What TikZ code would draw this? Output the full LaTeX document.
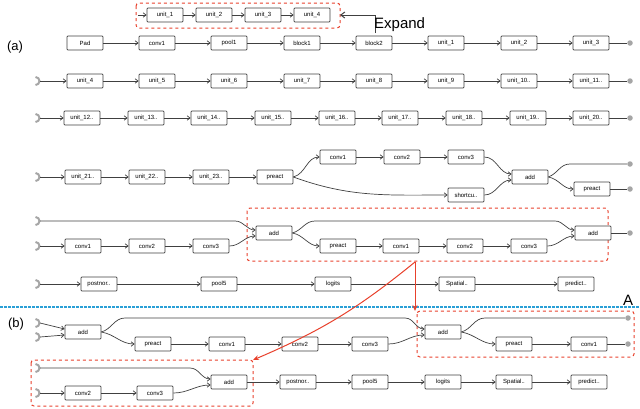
\documentclass[tikz,border=0pt]{standalone}
\usepackage{fontspec}
\setmainfont{Liberation Sans}
\usetikzlibrary{arrows.meta}
\definecolor{redd}{HTML}{E8412C}
\definecolor{bluel}{HTML}{2A9FD6}
\definecolor{ln}{HTML}{404040}
\begin{document}
\begin{tikzpicture}[x=1pt,y=-1pt,
  b/.style={draw=ln,line width=0.7pt,rounded corners=0.8pt,minimum width=36pt,minimum height=14pt,inner sep=0pt,font=\fontsize{6}{7}\selectfont,fill=white},
  c/.style={ln,line width=0.7pt,-{Straight Barb[length=3pt,width=4.5pt]}},
  l/.style={ln,line width=0.7pt},
  src/.pic={\draw[gray!70,line width=2pt] (-4.5pt,4pt) arc[start angle=90,end angle=-90,radius=4pt];},
  dot/.style={circle,fill=gray!70,inner sep=0pt,minimum size=5.5pt},
  rbox/.style={draw=redd,dashed,line width=1pt,rounded corners=3pt},
  lab/.style={font=\fontsize{13}{14}\selectfont,inner sep=0pt}]
\useasboundingbox (0,0) rectangle (640,408);
% expand
\draw[rbox] (136,3) rectangle (340,28);
\coordinate (e0) at (138,15);
\foreach \i/\x in {1/165,2/214,3/263,4/312} \node[b] (e\i) at (\x,15) {unit\_\i};
\draw[c] (e0) -- (e1); \draw[c] (e1) -- (e2); \draw[c] (e2) -- (e3); \draw[c] (e3) -- (e4);
\coordinate (ea) at (375,33); \coordinate (eb) at (375,15); \coordinate (ec) at (340,15);
\draw[ln,line width=1pt,-{Straight Barb[length=4pt,width=6pt]}] (ea) -- (eb) -- (ec);
\node[lab,anchor=west,font=\fontsize{15}{16}\selectfont] (ex) at (374,25) {Expand};
\node[lab] (la) at (15,47) {(a)};
% row1
\foreach \n/\x/\t in {p/85/Pad,a/157/conv1,b/229/pool1,c/302/block1,d/374/block2,e/446/unit\_1,f/519/unit\_2,g/591/unit\_3}
  \node[b] (r1\n) at (\x,43) {\t};
\foreach \a/\b in {p/a,a/b,b/c,c/d,d/e,e/f,f/g} \draw[c] (r1\a) -- (r1\b);
\node[dot] (d1) at (630,43) {}; \draw[l] (r1g) -- (d1);
% row2
\coordinate (s2) at (40,81); \pic at (s2) {src};
\foreach \n/\x/\t in {a/85/unit\_4,b/157/unit\_5,c/229/unit\_6,d/302/unit\_7,e/374/unit\_8,f/446/unit\_9,g/519/unit\_10..,h/591/unit\_11..}
  \node[b] (r2\n) at (\x,81) {\t};
\draw[c] (s2) -- (r2a);
\foreach \a/\b in {a/b,b/c,c/d,d/e,e/f,f/g,g/h} \draw[c] (r2\a) -- (r2\b);
\node[dot] (d2) at (630,81) {}; \draw[l] (r2h) -- (d2);
% row3
\coordinate (s3) at (40,118); \pic at (s3) {src};
\foreach \n/\x/\t in {a/82/unit\_12..,b/146/unit\_13..,c/209/unit\_14..,d/273/unit\_15..,e/337/unit\_16..,f/400/unit\_17..,g/464/unit\_18..,h/528/unit\_19..,i/591/unit\_20..}
  \node[b] (r3\n) at (\x,118) {\t};
\draw[c] (s3) -- (r3a);
\foreach \a/\b in {a/b,b/c,c/d,d/e,e/f,f/g,g/h,h/i} \draw[c] (r3\a) -- (r3\b);
\node[dot] (d3) at (630,118) {}; \draw[l] (r3i) -- (d3);
% row4
\coordinate (s4) at (40,177); \pic at (s4) {src};
\foreach \n/\x/\y/\t in {a/83/177/unit\_21..,b/147/177/unit\_22..,c/211/177/unit\_23..,d/275/177/preact,e/338/157/conv1,f/402/157/conv2,g/466/157/conv3,h/466/195/shortcu..,i/530/177/add,j/592/189/preact}
  \node[b] (r4\n) at (\x,\y) {\t};
\draw[c] (s4) -- (r4a);
\foreach \a/\b in {a/b,b/c,c/d,e/f,f/g} \draw[c] (r4\a) -- (r4\b);
\draw[c] (r4d.east) to[out=15,in=180] (r4e.west);
\draw[c] (r4d.east) to[out=-20,in=180] (r4h.west);
\draw[c] (r4g.east) to[out=0,in=180] ([yshift=3pt]r4i.west);
\draw[c] (r4h.east) to[out=0,in=180] ([yshift=-3pt]r4i.west);
\node[dot] (d4a) at (630,164) {}; \node[dot] (d4b) at (630,189) {};
\draw[l] (r4i.east) to[out=20,in=180] (570,164) -- (d4a);
\draw[c] (r4i.east) to[out=-10,in=180] (r4j.west);
\draw[l] (r4j) -- (d4b);
% row5
\draw[rbox] (247,208) rectangle (608,261);
\coordinate (s5a) at (40,221); \pic at (s5a) {src};
\coordinate (s5b) at (40,246); \pic at (s5b) {src};
\foreach \n/\x/\y/\t in {a/83/246/conv1,b/147/246/conv2,c/211/246/conv3,d/274/233/add,e/338/246/preact,f/401/246/conv1,g/465/246/conv2,h/529/246/conv3,i/593/233/add}
  \node[b] (r5\n) at (\x,\y) {\t};
\draw[c] (s5b) -- (r5a); \draw[c] (r5a) -- (r5b); \draw[c] (r5b) -- (r5c);
\draw[c] (s5a) -- (235,221) to[out=0,in=180] ([yshift=3pt]r5d.west);
\draw[c] (r5c.east) to[out=0,in=180] ([yshift=-3pt]r5d.west);
\draw[c] (r5d.east) to[out=-10,in=180] (r5e.west);
\foreach \a/\b in {e/f,f/g,g/h} \draw[c] (r5\a) -- (r5\b);
\draw[c] (r5d.east) to[out=15,in=180] (315,221) -- (555,221) to[out=0,in=180] ([yshift=3pt]r5i.west);
\draw[c] (r5h.east) to[out=0,in=180] ([yshift=-3pt]r5i.west);
\node[dot] (d5) at (630,233) {}; \draw[l] (r5i) -- (d5);
% row6
\coordinate (s6) at (40,284); \pic at (s6) {src};
\foreach \n/\x/\t in {a/99/postnor..,b/219/pool5,c/333/logits,d/457/Spatial..,e/576/predict..}
  \node[b] (r6\n) at (\x,284) {\t};
\draw[c] (s6) -- (r6a);
\foreach \a/\b in {a/b,b/c,c/d,d/e} \draw[c] (r6\a) -- (r6\b);
% separator
\draw[bluel,line width=1.2pt,dash pattern=on 2.5pt off 1.5pt] (0,307) -- (640,307);
\node[lab,font=\fontsize{15}{16}\selectfont] (A) at (628,300) {A};
\node[lab] (lb) at (16,324) {(b)};
% b row1
\draw[rbox] (417,311) rectangle (634,357);
\coordinate (t1) at (40,323); \pic at (t1) {src};
\coordinate (t2) at (40,337); \pic at (t2) {src};
\foreach \n/\x/\y/\t in {a/83/332/add,b/153/344/preact,c/227/344/conv1,d/300/344/conv2,e/370/344/conv3,f/443/332/add,g/514/344/preact,h/589/344/conv1}
  \node[b] (q\n) at (\x,\y) {\t};
\draw[c] (t1) -- ([yshift=3pt]qa.west);
\draw[c] (t2) -- ([yshift=-3pt]qa.west);
\draw[c] (qa.east) to[out=-10,in=180] (qb.west);
\foreach \a/\b in {b/c,c/d,d/e,g/h} \draw[c] (q\a) -- (q\b);
\draw[c] (qa.east) to[out=15,in=180] (125,318) -- (405,318) to[out=0,in=180] ([yshift=3pt]qf.west);
\draw[c] (qe.east) to[out=0,in=180] ([yshift=-3pt]qf.west);
\draw[c] (qf.east) to[out=-10,in=180] (qg.west);
\node[dot] (dq1) at (628,318) {}; \node[dot] (dq2) at (628,344) {};
\draw[l] (qf.east) to[out=15,in=180] (485,318) -- (dq1);
\draw[l] (qh) -- (dq2);
% b row2
\draw[rbox] (31,360) rectangle (253,406);
\coordinate (u1) at (40,368); \pic at (u1) {src};
\coordinate (u2) at (40,393); \pic at (u2) {src};
\foreach \n/\x/\y/\t in {a/83/393/conv2,b/155/393/conv3,c/229/382/add,d/298/382/postnor..,e/370/382/pool5,f/443/382/logits,g/514/382/Spatial..,h/589/382/predict..}
  \node[b] (w\n) at (\x,\y) {\t};
\draw[c] (u2) -- (wa); \draw[c] (wa) -- (wb);
\draw[c] (u1) -- (190,368) to[out=0,in=180] ([yshift=3pt]wc.west);
\draw[c] (wb.east) to[out=0,in=180] ([yshift=-3pt]wc.west);
\foreach \a/\b in {c/d,d/e,e/f,f/g,g/h} \draw[c] (w\a) -- (w\b);
% red arrows
\coordinate (ra) at (415,262); \coordinate (rb) at (415,311); \coordinate (rc) at (253,360);
\draw[redd,line width=1pt,-{Stealth[length=6pt,width=5pt]}] (ra) -- (rb);
\draw[redd,line width=1pt,-{Stealth[length=6pt,width=5pt]}] (ra) to[bend left=8] (rc);
\end{tikzpicture}
\end{document}
